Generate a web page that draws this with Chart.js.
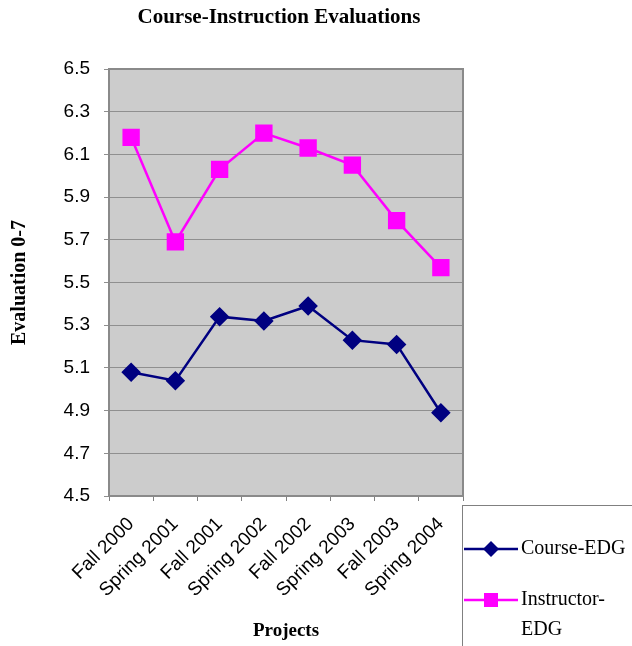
<!DOCTYPE html>
<html>
<head>
<meta charset="utf-8">
<script src="https://cdn.jsdelivr.net/npm/chart.js@4"></script>
<style>
  html, body { margin: 0; padding: 0; background: #fff; }
  #wrap { position: relative; width: 632px; height: 646px; }
</style>
</head>
<body>
<div id="wrap"><canvas id="chart" width="632" height="646"></canvas></div>
<script>
const categories = ['Fall 2000', 'Spring 2001', 'Fall 2001', 'Spring 2002', 'Fall 2002', 'Spring 2003', 'Fall 2003', 'Spring 2004'];
const courseEdg     = [5.08, 5.04, 5.34, 5.32, 5.39, 5.23, 5.21, 4.89];
const instructorEdg = [6.18, 5.69, 6.03, 6.20, 6.13, 6.05, 5.79, 5.57];
const yTicks = [4.5, 4.7, 4.9, 5.1, 5.3, 5.5, 5.7, 5.9, 6.1, 6.3, 6.5];

const SERIF = '"Liberation Serif", "Times New Roman", serif';
const SANS  = '"Liberation Sans", Arial, sans-serif';

// gray plot background + title + boxed legend, Excel style
const decor = {
  id: 'decor',
  beforeDraw(chart) {
    const { ctx, chartArea: a } = chart;
    ctx.save();
    ctx.fillStyle = '#cccccc';
    ctx.fillRect(a.left, a.top, a.right - a.left, a.bottom - a.top);
    ctx.restore();
  },
  afterDraw(chart) {
    const { ctx, chartArea: a } = chart;
    ctx.save();
    ctx.strokeStyle = '#8a8a8a';
    ctx.lineWidth = 2;
    ctx.strokeRect(a.left, a.top, a.right - a.left, a.bottom - a.top);

    ctx.fillStyle = '#000';
    ctx.font = 'bold 21px ' + SERIF;
    ctx.textAlign = 'center';
    ctx.textBaseline = 'middle';
    ctx.fillText('Course-Instruction Evaluations', 279, 18);

    // legend box
    ctx.strokeStyle = '#808080';
    ctx.lineWidth = 1;
    ctx.strokeRect(462.5, 505.5, 180, 150);
    const rows = [
      { ds: chart.data.datasets[0], y: 549, lines: ['Course-EDG'] },
      { ds: chart.data.datasets[1], y: 600, lines: ['Instructor-', 'EDG'] },
    ];
    rows.forEach(r => {
      ctx.strokeStyle = r.ds.borderColor;
      ctx.lineWidth = 2.5;
      ctx.beginPath();
      ctx.moveTo(464, r.y);
      ctx.lineTo(518, r.y);
      ctx.stroke();
      ctx.fillStyle = r.ds.borderColor;
      if (r.ds.pointStyle === 'rect') {
        ctx.fillRect(484, r.y - 7, 14, 14);
      } else {
        ctx.beginPath();
        ctx.moveTo(491, r.y - 8);
        ctx.lineTo(499, r.y);
        ctx.lineTo(491, r.y + 8);
        ctx.lineTo(483, r.y);
        ctx.closePath();
        ctx.fill();
      }
      ctx.fillStyle = '#000';
      ctx.font = '20px ' + SERIF;
      ctx.textAlign = 'left';
      ctx.textBaseline = 'middle';
      r.lines.forEach((t, i) => ctx.fillText(t, 521, r.y + i * 30));
    });
    ctx.restore();
  }
};

new Chart(document.getElementById('chart'), {
  type: 'line',
  data: {
    labels: categories,
    datasets: [
      {
        label: 'Course-EDG',
        data: courseEdg,
        borderColor: '#000080',
        backgroundColor: '#000080',
        borderWidth: 2.5,
        pointStyle: 'rectRot',
        pointRadius: 8,
        tension: 0,
      },
      {
        label: 'Instructor-EDG',
        data: instructorEdg,
        borderColor: '#ff00ff',
        backgroundColor: '#ff00ff',
        borderWidth: 2.5,
        pointStyle: 'rect',
        pointRadius: 10.5,
        tension: 0,
      }
    ]
  },
  options: {
    responsive: false,
    animation: false,
    layout: { padding: { left: 0, right: 169, top: 69, bottom: 0 } },
    plugins: {
      legend: { display: false },
      tooltip: { enabled: false },
      title: { display: false },
    },
    scales: {
      x: {
        offset: true,
        grid: { offset: true, drawOnChartArea: false, drawTicks: true, tickLength: 5, color: '#808080' },
        border: { display: false },
        ticks: {
          color: '#000',
          font: { family: SANS, size: 19 },
          maxRotation: 45, minRotation: 45, padding: 12, autoSkip: false,
        },
        title: {
          display: true, text: 'Projects', color: '#000',
          font: { family: SERIF, size: 19, weight: 'bold' },
          padding: { top: 0, bottom: 4 },
        },
        afterFit(scale) { scale.height = 150; },
      },
      y: {
        min: 4.5, max: 6.5,
        afterBuildTicks(scale) { scale.ticks = yTicks.map(v => ({ value: v })); },
        grid: { color: '#8f8f8f', lineWidth: 1, tickLength: 5, drawTicks: true },
        border: { display: false },
        ticks: {
          color: '#000',
          font: { family: SANS, size: 19 },
          padding: 14,
          callback: v => v.toFixed(1),
        },
        title: {
          display: true, text: 'Evaluation 0-7', color: '#000',
          font: { family: SERIF, size: 20, weight: 'bold' },
          padding: { top: 8, bottom: 0 },
        },
        afterFit(scale) { scale.width = 109; },
      }
    }
  },
  plugins: [decor]
});
</script>
</body>
</html>
